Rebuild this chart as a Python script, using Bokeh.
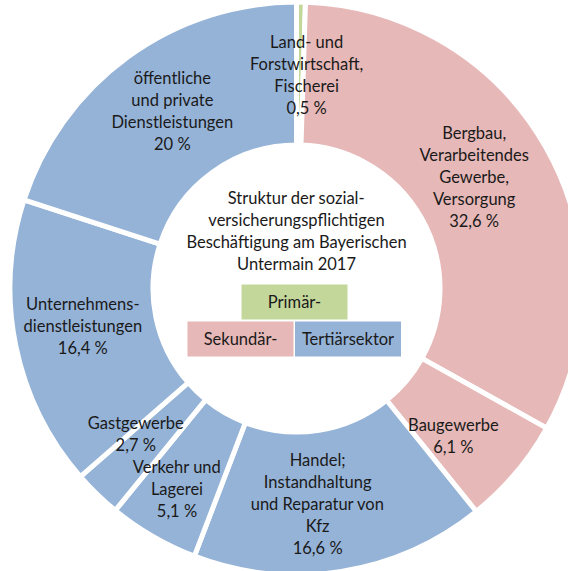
import math
from bokeh.plotting import figure
from bokeh.models import Range1d, ColumnDataSource
from bokeh.embed import file_html
from bokeh.resources import INLINE
from bokeh.core.properties import value

# ---------------- data ----------------
categories = [
    "Land- und\nForstwirtschaft,\nFischerei",
    "Bergbau,\nVerarbeitendes\nGewerbe,\nVersorgung",
    "Baugewerbe",
    "Handel;\nInstandhaltung\nund Reparatur von\nKfz",
    "Verkehr und\nLagerei",
    "Gastgewerbe",
    "Unternehmens-\ndienstleistungen",
    "öffentliche\nund private\nDienstleistungen",
]
shares = [0.5, 32.6, 6.1, 16.6, 5.1, 2.7, 16.4, 20.0]
share_labels = ["0,5 %", "32,6 %", "6,1 %", "16,6 %", "5,1 %", "2,7 %", "16,4 %", "20 %"]
sectors = ["Primär", "Sekundär", "Sekundär", "Tertiär", "Tertiär", "Tertiär", "Tertiär", "Tertiär"]
title_text = "Struktur der sozial-\nversicherungspflichtigen\nBeschäftigung am Bayerischen\nUntermain 2017"
legend_labels = ["Primär-", "Sekundär-", "Tertiärsektor"]

# ---------------- style / layout ----------------
W, H = 568, 571
sector_colors = {"Primär": "#C4D79B", "Sekundär": "#E6B8B7", "Tertiär": "#95B3D7"}
CX, CY_PIX = 296, 288
CY = H - CY_PIX
R_OUT, R_IN = 286.5, 143.5
FONT = "Lato"
FS = "16.5px"
LH = 1.1
# label placement nudges (degrees, radius in px)
label_angle_nudge = [1.8, -2.7, 3.0, 3.4, 0.8, 3.7, 1.5, 1.1]
label_radius = [214, 210, 215, 217, 233, 217, 217, 217]

total = sum(shares)
starts, ends, mids = [], [], []
cum = 0.0
for s in shares:
    a0 = cum / total
    cum += s
    a1 = cum / total
    # clockwise from 12 o'clock
    starts.append(math.pi / 2 - a1 * 2 * math.pi)
    ends.append(math.pi / 2 - a0 * 2 * math.pi)
    mids.append((a0 + a1) / 2 * 360.0)

wedges = ColumnDataSource(dict(
    x=[CX] * len(shares), y=[CY] * len(shares),
    start=starts, end=ends,
    color=[sector_colors[s] for s in sectors],
))

lx, ly, ltxt = [], [], []
for i, (cat, lab) in enumerate(zip(categories, share_labels)):
    ang = math.radians(mids[i] + label_angle_nudge[i])
    r = label_radius[i]
    lx.append(CX + r * math.sin(ang))
    ly.append(CY + r * math.cos(ang))
    ltxt.append(cat + "\n" + lab)

p = figure(width=W, height=H, output_backend="svg", toolbar_location=None,
           x_range=Range1d(0, W), y_range=Range1d(0, H),
           x_axis_type=None, y_axis_type=None, min_border=0,
           background_fill_color="white", border_fill_color="white")
p.outline_line_color = None
p.grid.visible = False

p.annular_wedge(x="x", y="y", inner_radius=R_IN, outer_radius=R_OUT,
                start_angle="start", end_angle="end", fill_color="color",
                line_color="white", line_width=5, source=wedges)

p.text(x=lx, y=ly, text=ltxt, text_align="center", text_baseline="middle",
       text_font=value(FONT), text_font_size=FS, text_line_height=LH,
       text_color="#1a1a1a")

# center title
p.text(x=[CX], y=[H - 230.5], text=[title_text], text_align="center",
       text_baseline="middle", text_font=value(FONT), text_font_size=FS,
       text_line_height=LH, text_color="#1a1a1a")

# sector legend boxes
box_w, box_h = 106, 35
box_cx = [CX - 2, CX - 56, CX + 51.5]
box_cy = [H - 301.5, H - 338.5, H - 338.5]
box_col = [sector_colors["Primär"], sector_colors["Sekundär"], sector_colors["Tertiär"]]
p.rect(x=box_cx, y=box_cy, width=box_w, height=box_h, fill_color=box_col, line_color=None)
p.text(x=box_cx, y=box_cy, text=legend_labels, text_align="center", text_baseline="middle",
       text_font=value(FONT), text_font_size=FS, text_color="#1a1a1a")

open("out.html", "w").write(file_html(p, INLINE))
